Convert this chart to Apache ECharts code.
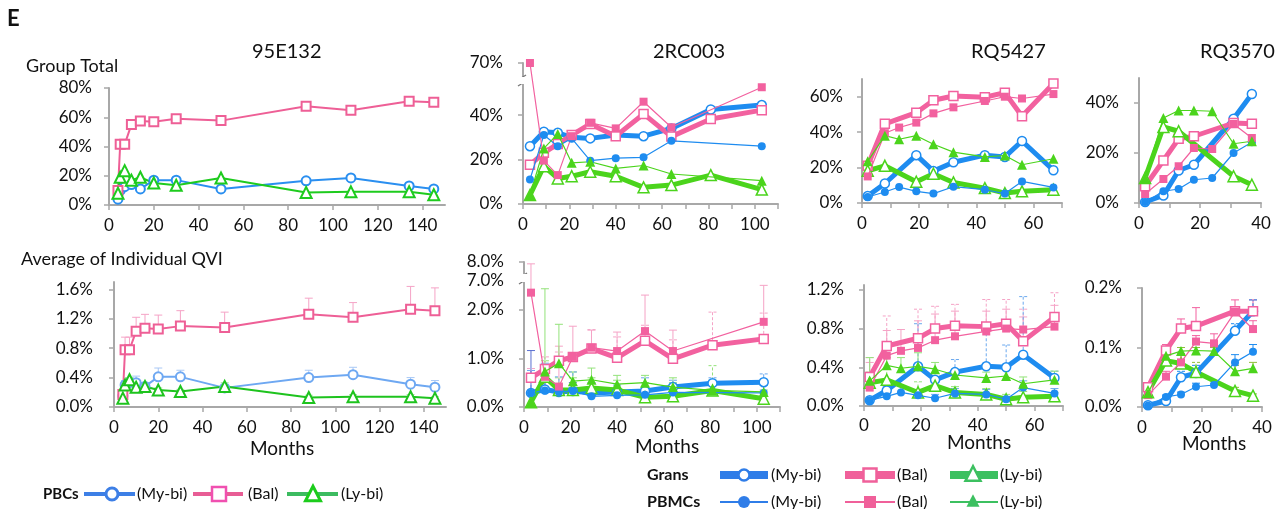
<!DOCTYPE html>
<html>
<head>
<meta charset="utf-8">
<script src="https://cdn.jsdelivr.net/npm/echarts@6/dist/echarts.min.js"></script>
<style>
  html, body { margin: 0; padding: 0; background: #fff; }
  #main { width: 1279px; height: 509px; }
</style>
</head>
<body>
<div id="main"></div>
<script>
// ---------- data (all values in %) ----------
// 95E132, PBCs
var months95 = [4, 5, 7, 10, 14, 20, 30, 50, 88, 108, 134, 145];
var totMy95  = [4, 10, 12.5, 14, 11, 17, 17, 11, 16.5, 18.5, 13, 11];
var totBal95 = [10, 41.5, 41.5, 55, 57.5, 57, 59, 57.7, 67.5, 64.8, 71, 70.3];
var totLy95  = [8, 19, 23.5, 17, 19, 15, 13.5, 18.5, 8.5, 9, 9, 7];
var qviMy95  = [0.15, 0.30, 0.33, 0.33, 0.28, 0.41, 0.41, 0.26, 0.40, 0.44, 0.31, 0.27];
var qviBal95 = [0.17, 0.78, 0.78, 1.03, 1.07, 1.06, 1.10, 1.08, 1.26, 1.22, 1.33, 1.31];
var qviLy95  = [0.12, 0.30, 0.37, 0.27, 0.28, 0.23, 0.21, 0.28, 0.13, 0.14, 0.14, 0.12];
var errMy95  = [null, 0.36, 0.40, 0.42, 0.33, 0.53, 0.50, 0.30, 0.50, 0.54, 0.40, 0.36];
var errBal95 = [null, 0.95, 0.95, 1.22, 1.26, 1.25, 1.31, 1.29, 1.48, 1.42, 1.64, 1.62];
var errLy95  = [null, 0.34, 0.40, 0.30, 0.31, 0.26, 0.24, 0.33, 0.16, 0.17, 0.17, 0.14];

// 2RC003
var months2rc = [3, 9, 15, 21, 29, 40, 52, 64, 81, 103];
var granMy2  = [26, 32.5, 32, 30, 29.5, 31, 30.5, 34, 42.5, 44.5];
var pbmcMy2  = [11, 31, 26, 29.5, 19.5, 20.6, 21, 28.4, null, 26];
var granBal2 = [17.6, 23, 27, 31, 36, 30.5, 40.5, 30.3, 38.2, 42.2];
var pbmcBal2 = [70, 19.5, 13, 30.5, 36.5, 34, 46, 34.5, null, 52.5];
var granLy2  = [4, 17, 11.5, 12.5, 14.5, 12.5, 7.5, 8.5, 13, 6.5];
var pbmcLy2  = [4, 25, 31.5, 18.5, 19, 16, 17.3, 13.5, null, 10.5];
var qGranMy2  = [0.29, 0.36, 0.31, 0.33, 0.29, 0.31, 0.33, 0.41, 0.49, 0.51];
var qPbmcMy2  = [0.29, 0.34, 0.31, 0.33, 0.22, 0.24, 0.25, 0.30, null, 0.29];
var qGranBal2 = [0.60, 0.78, 0.95, 1.03, 1.20, 1.01, 1.36, 0.99, 1.27, 1.40];
var qPbmcBal2 = [2.35, 0.62, 0.42, 1.03, 1.22, 1.15, 1.56, 1.15, null, 1.75];
var qGranLy2  = [0.10, 0.62, 0.35, 0.35, 0.39, 0.35, 0.20, 0.22, 0.34, 0.17];
var qPbmcLy2  = [0.10, 0.73, 0.90, 0.53, 0.56, 0.47, 0.50, 0.41, 0.34, 0.31];
var eGranMy2  = [0.75, 0.90, 0.62, 0.72, 0.50, 0.45, 0.60, 0.55, 0.60, 0.68];
var ePbmcMy2  = [1.16, 0.85, 0.45, 0.50, 0.35, 0.38, 0.40, 0.40, null, 0.45];
var eGranBal2 = [0.79, 1.03, 1.13, null, 1.59, 1.44, 1.68, 1.38, 1.95, 1.93];
var ePbmcBal2 = [7.9, 0.85, 1.25, 1.66, 1.58, 1.54, 2.30, 1.58, null, 2.50];
var eGranLy2  = [null, 0.95, 0.60, 0.60, 0.60, 0.55, 0.50, 0.50, 0.85, 0.35];
var ePbmcLy2  = [null, 2.43, 1.70, 0.72, 0.80, 0.65, 0.65, 0.60, 0.55, 0.45];

// RQ5427
var months54 = [2, 8, 13, 19, 25, 32, 43, 50, 56, 67];
var granMy54  = [4, 11, null, 27, 18, 23, 27, 26, 35, 18.5];
var pbmcMy54  = [3.4, 6.2, 9, 6.6, 5.3, 9.2, 7.5, 5.3, 12.2, 8.8];
var granBal54 = [21, 44.7, null, 51, 58, 60.4, 59.7, 62.3, 49, 67.5];
var pbmcBal54 = [15, 39.4, 42.6, 45.4, 50.6, 54, 57.6, 60, 59, 61.5];
var granLy54  = [18.2, 21, null, 12, 16.5, 11.6, 8.4, 5.6, 6.6, 7.5];
var pbmcLy54  = [23.5, 38, 36, 38, 33.2, 28.7, 26, 26.8, 21.6, 25];
var qGranMy54  = [0.06, 0.16, null, 0.41, 0.27, 0.35, 0.41, 0.40, 0.53, 0.29];
var qPbmcMy54  = [0.06, 0.10, 0.14, 0.11, 0.08, 0.13, 0.12, 0.07, 0.19, 0.13];
var qGranBal54 = [0.30, 0.62, null, 0.70, 0.80, 0.83, 0.82, 0.85, 0.67, 0.92];
var qPbmcBal54 = [0.19, 0.52, 0.57, 0.60, 0.68, 0.72, 0.77, 0.80, 0.79, 0.82];
var qGranLy54  = [0.24, 0.27, null, 0.14, 0.21, 0.14, 0.12, 0.07, 0.09, 0.10];
var qPbmcLy54  = [0.26, 0.42, 0.39, 0.41, 0.38, 0.32, 0.29, 0.31, 0.23, 0.27];
var eGranMy54  = [null, 0.20, null, 0.85, 0.30, 0.48, 0.80, 0.63, 1.13, 0.36];
var ePbmcMy54  = [null, 0.14, 0.20, 0.16, 0.12, 0.18, 0.17, 0.10, 0.26, 0.18];
var eGranBal54 = [0.50, 0.93, null, 1.00, 1.03, 1.05, 1.10, 1.10, 1.00, 1.17];
var ePbmcBal54 = [0.45, 0.78, 0.79, 0.88, 0.95, 0.98, 0.98, 1.00, 0.92, 1.04];
var eGranLy54  = [0.35, 0.58, null, 0.25, 0.30, 0.20, 0.18, 0.12, 0.15, 0.14];
var ePbmcLy54  = [0.50, 0.50, 0.50, 0.55, 0.45, 0.38, 0.35, 0.38, 0.30, 0.36];

// RQ3570
var months35 = [2, 8, 13, 18, 24, 31, 37];
var granMy35  = [0.4, 3, 13, 15.3, null, 33.7, 43.6];
var pbmcMy35  = [0.4, 4.7, 5.6, 9.3, 10, 20, 24.3];
var granBal35 = [6.7, 17, 25.7, 26.7, null, 32, 31.7];
var pbmcBal35 = [3.6, 9.6, 14.7, 22, 21.6, 31.6, 26];
var granLy35  = [10, 30.4, 28.7, null, null, 10.7, 7.3];
var pbmcLy35  = [10, 34, 37, 37, 36.7, 23.7, 24.7];
var qGranMy35  = [0.003, 0.010, 0.050, 0.057, null, 0.128, 0.161];
var qPbmcMy35  = [0.002, 0.017, 0.021, 0.034, 0.037, 0.075, 0.093];
var qGranBal35 = [0.033, 0.095, 0.132, 0.136, null, 0.161, 0.161];
var qPbmcBal35 = [0.020, 0.051, 0.075, 0.110, 0.107, 0.160, 0.131];
var qGranLy35  = [0.025, 0.078, 0.073, 0.059, null, 0.027, 0.019];
var qPbmcLy35  = [0.023, 0.086, 0.094, 0.095, 0.094, 0.060, 0.065];
var eGranMy35  = [null, null, 0.060, 0.070, null, 0.140, 0.180];
var ePbmcMy35  = [null, 0.020, 0.025, 0.040, 0.040, 0.088, 0.105];
var eGranBal35 = [0.040, 0.105, 0.148, 0.167, null, 0.180, 0.180];
var ePbmcBal35 = [0.030, 0.060, 0.090, 0.120, 0.123, 0.165, 0.145];
var eGranLy35  = [null, 0.100, 0.100, 0.075, null, 0.033, 0.022];
var ePbmcLy35  = [null, 0.095, 0.100, 0.100, 0.100, 0.070, 0.075];

// ---------- styles ----------
var BLUE = '#1e8cf0', PINK = '#f2619f', GREEN = '#4bd41c';
var FONT = 'Lato, "Open Sans", sans-serif';
var AX = '#a8a8a8';

// broken axes on 2RC003
function brkTop(v) { return v == null ? null : (v > 60 ? v - 6.6 : v); }
function brkBot(v) { return v == null ? null : (v >= 7 ? 2.60 + (v - 7) * 0.38 : v); }

function pts(xs, ys, f) {
  return xs.map(function (x, i) { return [x, ys[i] == null ? null : (f ? f(ys[i]) : ys[i])]; });
}

var KIND = {
  pbc:  { width: 2,   hollow: true,  size: 9,  bw: 2,   z: 3 },
  gran: { width: 5,   hollow: true,  size: 9,  bw: 1.5, z: 2 },
  pbmc: { width: 1.2, hollow: false, size: 8,  bw: 0,   z: 4 }
};

function lineS(g, xs, ys, kind, color, symbol, f) {
  var k = KIND[kind];
  var size = symbol === 'triangle' ? k.size + 2 : k.size;
  return {
    type: 'line', xAxisIndex: g, yAxisIndex: g, data: pts(xs, ys, f),
    connectNulls: true, symbol: symbol, symbolSize: size, showSymbol: true,
    lineStyle: { color: color, width: k.width },
    itemStyle: k.hollow ? { color: '#fff', borderColor: color, borderWidth: k.bw }
                        : { color: color, borderWidth: 0 },
    z: k.z, silent: true, animation: false
  };
}

function errS(g, xs, ys, tops, color, dash, f) {
  var data = [];
  xs.forEach(function (x, i) {
    if (tops[i] == null || ys[i] == null) return;
    data.push([x, f ? f(ys[i]) : ys[i], f ? f(tops[i]) : tops[i]]);
  });
  return {
    type: 'custom', xAxisIndex: g, yAxisIndex: g, data: data, z: 1, silent: true, animation: false,
    encode: { x: 0, y: [1, 2] },
    renderItem: function (params, api) {
      var a = api.coord([api.value(0), api.value(1)]);
      var b = api.coord([api.value(0), api.value(2)]);
      var st = { stroke: color, lineWidth: 1, lineDash: dash ? [3, 2] : null };
      return { type: 'group', children: [
        { type: 'line', shape: { x1: a[0], y1: a[1], x2: b[0], y2: b[1] }, style: st },
        { type: 'line', shape: { x1: b[0] - 4, y1: b[1], x2: b[0] + 4, y2: b[1] }, style: st }
      ] };
    }
  };
}

var grids = [
  { left: 109,  top: 88,  width: 336, height: 117 },
  { left: 114,  top: 282, width: 332, height: 125 },
  { left: 523,  top: 63,  width: 255, height: 141 },
  { left: 524,  top: 262, width: 256, height: 145 },
  { left: 862,  top: 79,  width: 200, height: 124 },
  { left: 864,  top: 285, width: 199, height: 121 },
  { left: 1139, top: 78,  width: 122, height: 125 },
  { left: 1142, top: 288, width: 120, height: 119 }
];

function range(a, b, s) { var r = []; for (var v = a; v <= b + 1e-9; v += s) r.push(+v.toFixed(4)); return r; }

function xAx(g, max, labels, ticks, margin) {
  return {
    type: 'value', gridIndex: g, min: 0, max: max,
    axisLine: { lineStyle: { color: AX, width: 2 } },
    axisTick: { show: true, length: 5, lineStyle: { color: AX, width: 1.5 }, customValues: ticks },
    axisLabel: { customValues: labels, margin: margin, color: '#111', fontSize: 17, fontFamily: FONT },
    splitLine: { show: false }
  };
}
function yAx(g, max, labels, fmt, margin) {
  return {
    type: 'value', gridIndex: g, min: 0, max: max,
    axisLine: { show: true, lineStyle: { color: AX, width: 2 } },
    axisTick: { show: true, length: 5, lineStyle: { color: AX, width: 1.5 }, customValues: labels },
    axisLabel: { customValues: labels, formatter: fmt, margin: margin, color: '#111', fontSize: 17, fontFamily: FONT },
    splitLine: { show: false }
  };
}
function pct0(v) { return Math.round(v) + '%'; }
function pct1(v) { return v.toFixed(1) + '%'; }

var xAxes = [
  xAx(0, 150, range(0, 140, 20), range(0, 140, 20), 12),
  xAx(1, 150, range(0, 140, 20), range(0, 140, 20), 12),
  xAx(2, 110, range(0, 100, 20), range(0, 110, 10), 12),
  xAx(3, 110, range(0, 100, 20), range(0, 110, 10), 12),
  xAx(4, 70, range(0, 60, 20), range(0, 70, 10), 12),
  xAx(5, 70, range(0, 60, 20), range(0, 70, 10), 11),
  xAx(6, 40, range(0, 40, 20), range(0, 40, 10), 12),
  xAx(7, 40, range(0, 40, 20), range(0, 40, 10), 12)
];
var yAxes = [
  yAx(0, 80, range(0, 80, 20), pct0, 17),
  yAx(1, 1.7, range(0, 1.6, 0.4), pct1, 21),
  yAx(2, 63.4, [0, 20, 40, 63.4], function (v) { return v > 60 ? '70%' : pct0(v); }, 20),
  yAx(3, 2.98, [0, 1, 2, 2.6, 2.98], function (v) { return v > 2.9 ? '8.0%' : (v > 2.5 ? '7.0%' : pct1(v)); }, 20),
  yAx(4, 70, range(0, 60, 20), pct0, 19),
  yAx(5, 1.25, range(0, 1.2, 0.4), pct1, 20),
  yAx(6, 50, range(0, 40, 20), pct0, 20),
  yAx(7, 0.2, range(0, 0.2, 0.1), pct1, 20)
];

var PBLUE = '#6ea8f2', EPINK = '#f5a3c6', EBLUE = '#6aa8ee', EGREEN = '#93e27a';
var series = [
  // 95E132
  lineS(0, months95, totMy95, 'pbc', '#2a8ff0', 'circle'),
  lineS(0, months95, totBal95, 'pbc', '#ee5f96', 'rect'),
  lineS(0, months95, totLy95, 'pbc', '#1ecb1e', 'triangle'),
  errS(1, months95, qviBal95, errBal95, EPINK, false),
  errS(1, months95, qviMy95, errMy95, '#a9c8f5', false),
  errS(1, months95, qviLy95, errLy95, '#a9e6a0', false),
  lineS(1, months95, qviMy95, 'pbc', PBLUE, 'circle'),
  lineS(1, months95, qviBal95, 'pbc', '#ee5f96', 'rect'),
  lineS(1, months95, qviLy95, 'pbc', '#1ec31e', 'triangle'),
  // 2RC003
  lineS(2, months2rc, granMy2, 'gran', BLUE, 'circle', brkTop),
  lineS(2, months2rc, granBal2, 'gran', PINK, 'rect', brkTop),
  lineS(2, months2rc, granLy2, 'gran', GREEN, 'triangle', brkTop),
  lineS(2, months2rc, pbmcMy2, 'pbmc', BLUE, 'circle', brkTop),
  lineS(2, months2rc, pbmcBal2, 'pbmc', PINK, 'rect', brkTop),
  lineS(2, months2rc, pbmcLy2, 'pbmc', GREEN, 'triangle', brkTop),
  errS(3, months2rc, qGranBal2, eGranBal2, EPINK, true, brkBot),
  errS(3, months2rc, qPbmcBal2, ePbmcBal2, EPINK, false, brkBot),
  errS(3, months2rc, qGranLy2, eGranLy2, EGREEN, true, brkBot),
  errS(3, months2rc, qPbmcLy2, ePbmcLy2, EGREEN, false, brkBot),
  errS(3, months2rc, qGranMy2, eGranMy2, EBLUE, true, brkBot),
  errS(3, months2rc, qPbmcMy2, ePbmcMy2, '#5a6fd0', false, brkBot),
  lineS(3, months2rc, qGranMy2, 'gran', BLUE, 'circle', brkBot),
  lineS(3, months2rc, qGranBal2, 'gran', PINK, 'rect', brkBot),
  lineS(3, months2rc, qGranLy2, 'gran', GREEN, 'triangle', brkBot),
  lineS(3, months2rc, qPbmcMy2, 'pbmc', BLUE, 'circle', brkBot),
  lineS(3, months2rc, qPbmcBal2, 'pbmc', PINK, 'rect', brkBot),
  lineS(3, months2rc, qPbmcLy2, 'pbmc', GREEN, 'triangle', brkBot),
  // RQ5427
  lineS(4, months54, granMy54, 'gran', BLUE, 'circle'),
  lineS(4, months54, granBal54, 'gran', PINK, 'rect'),
  lineS(4, months54, granLy54, 'gran', GREEN, 'triangle'),
  lineS(4, months54, pbmcMy54, 'pbmc', BLUE, 'circle'),
  lineS(4, months54, pbmcBal54, 'pbmc', PINK, 'rect'),
  lineS(4, months54, pbmcLy54, 'pbmc', GREEN, 'triangle'),
  errS(5, months54, qGranBal54, eGranBal54, EPINK, true),
  errS(5, months54, qPbmcBal54, ePbmcBal54, EPINK, false),
  errS(5, months54, qGranMy54, eGranMy54, EBLUE, true),
  errS(5, months54, qPbmcMy54, ePbmcMy54, EBLUE, false),
  errS(5, months54, qGranLy54, eGranLy54, EGREEN, true),
  errS(5, months54, qPbmcLy54, ePbmcLy54, EGREEN, false),
  lineS(5, months54, qGranMy54, 'gran', BLUE, 'circle'),
  lineS(5, months54, qGranBal54, 'gran', PINK, 'rect'),
  lineS(5, months54, qGranLy54, 'gran', GREEN, 'triangle'),
  lineS(5, months54, qPbmcMy54, 'pbmc', BLUE, 'circle'),
  lineS(5, months54, qPbmcBal54, 'pbmc', PINK, 'rect'),
  lineS(5, months54, qPbmcLy54, 'pbmc', GREEN, 'triangle'),
  // RQ3570
  lineS(6, months35, granMy35, 'gran', BLUE, 'circle'),
  lineS(6, months35, granBal35, 'gran', PINK, 'rect'),
  lineS(6, months35, granLy35, 'gran', GREEN, 'triangle'),
  lineS(6, months35, pbmcMy35, 'pbmc', BLUE, 'circle'),
  lineS(6, months35, pbmcBal35, 'pbmc', PINK, 'rect'),
  lineS(6, months35, pbmcLy35, 'pbmc', GREEN, 'triangle'),
  errS(7, months35, qGranBal35, eGranBal35, PINK, false),
  errS(7, months35, qPbmcBal35, ePbmcBal35, PINK, false),
  errS(7, months35, qGranMy35, eGranMy35, BLUE, true),
  errS(7, months35, qPbmcMy35, ePbmcMy35, BLUE, false),
  errS(7, months35, qGranLy35, eGranLy35, '#8fbf3a', true),
  errS(7, months35, qPbmcLy35, ePbmcLy35, '#8fbf3a', false),
  lineS(7, months35, qGranMy35, 'gran', BLUE, 'circle'),
  lineS(7, months35, qGranBal35, 'gran', PINK, 'rect'),
  lineS(7, months35, qGranLy35, 'gran', GREEN, 'triangle'),
  lineS(7, months35, qPbmcMy35, 'pbmc', BLUE, 'circle'),
  lineS(7, months35, qPbmcBal35, 'pbmc', PINK, 'rect'),
  lineS(7, months35, qPbmcLy35, 'pbmc', GREEN, 'triangle')
];

// ---------- text, axis breaks, legends ----------
function txt(x, y, s, size, bold, align) {
  return { type: 'text', x: x, y: y, z: 100, silent: true,
    style: { text: s, fill: '#111', font: (bold ? 'bold ' : '') + size + 'px ' + FONT,
             align: align || 'left', verticalAlign: 'middle' } };
}
function seg(x1, y1, x2, y2, w, c) {
  return { type: 'line', z: 100, silent: true, shape: { x1: x1, y1: y1, x2: x2, y2: y2 },
    style: { stroke: c, lineWidth: w } };
}
function box(x, y, w, h, fill, stroke, lw) {
  return { type: 'rect', z: 101, silent: true, shape: { x: x, y: y, width: w, height: h },
    style: { fill: fill, stroke: stroke || null, lineWidth: lw || 0 } };
}
function dot(cx, cy, r, fill, stroke, lw) {
  return { type: 'circle', z: 101, silent: true, shape: { cx: cx, cy: cy, r: r },
    style: { fill: fill, stroke: stroke || null, lineWidth: lw || 0 } };
}
function tri(cx, cy, s, fill, stroke, lw) {
  var h = s * 0.9;
  return { type: 'polygon', z: 101, silent: true,
    shape: { points: [[cx, cy - h / 2 - 1], [cx - s / 2, cy + h / 2], [cx + s / 2, cy + h / 2]] },
    style: { fill: fill, stroke: stroke || null, lineWidth: lw || 0 } };
}

var LB = '#2f7de8', LP = '#f0609a', LG = '#3cc060';
var graphics = [
  txt(7, 19, 'E', 22, true),
  txt(252, 52, '95E132', 20),
  txt(653, 52, '2RC003', 20),
  txt(971, 52, 'RQ5427', 20),
  txt(1200, 52, 'RQ3570', 20),
  txt(26, 66, 'Group Total', 18),
  txt(21, 259, 'Average of Individual QVI', 18),
  txt(282, 449, 'Months', 19, false, 'center'),
  txt(667, 447, 'Months', 19, false, 'center'),
  txt(979, 443, 'Months', 19, false, 'center'),
  txt(1214, 444, 'Months', 19, false, 'center'),
  // breaks on 2RC003 axes
  box(517, 77, 12, 7, '#fff'),
  seg(518, 80, 526, 75, 1.3, '#777'),
  seg(518, 86, 526, 81, 1.3, '#777'),
  box(518, 274, 12, 8, '#fff'),
  seg(519, 278, 527, 273, 1.3, '#777'),
  seg(519, 284, 527, 279, 1.3, '#777'),
  // PBCs legend
  txt(43, 494, 'PBCs', 15, true),
  seg(84, 494, 135, 494, 4, '#3d7fe6'),
  dot(112, 494, 6, '#fff', '#3d7fe6', 3),
  txt(137, 494, '(My-bi)', 16),
  seg(193, 494, 243, 494, 4, '#e85d95'),
  box(212, 487, 14, 14, '#fff', '#f050b0', 2.5),
  txt(248, 494, '(Bal)', 16),
  seg(287, 494, 338, 494, 4, '#3cbb60'),
  tri(313, 494, 15, '#fff', '#1ccc1c', 3),
  txt(341, 494, '(Ly-bi)', 16),
  // Grans / PBMCs legend
  txt(647, 475, 'Grans', 16, true),
  txt(647, 502, 'PBMCs', 16, true),
  seg(720, 475, 768, 475, 8, LB),
  dot(744, 475, 5.5, '#fff', LB, 2.5),
  txt(771, 475, '(My-bi)', 16),
  seg(845, 475, 895, 475, 8, LP),
  box(863.5, 468.5, 13, 13, '#fff', LP, 2.5),
  txt(897, 475, '(Bal)', 16),
  seg(950, 475, 998, 475, 8, LG),
  tri(973, 474, 15, '#fff', LG, 2.5),
  txt(1000, 475, '(Ly-bi)', 16),
  seg(720, 502, 768, 502, 2, LB),
  dot(744, 502, 6, LB),
  txt(771, 502, '(My-bi)', 16),
  seg(845, 502, 895, 502, 2, LP),
  box(864, 496, 12, 12, LP),
  txt(897, 502, '(Bal)', 16),
  seg(950, 502, 998, 502, 2, LG),
  tri(973, 501, 13, LG),
  txt(1000, 502, '(Ly-bi)', 16)
];

var chart = echarts.init(document.getElementById('main'));
chart.setOption({
  animation: false,
  backgroundColor: '#fff',
  grid: grids,
  xAxis: xAxes,
  yAxis: yAxes,
  series: series,
  graphic: graphics
});
</script>
</body>
</html>
